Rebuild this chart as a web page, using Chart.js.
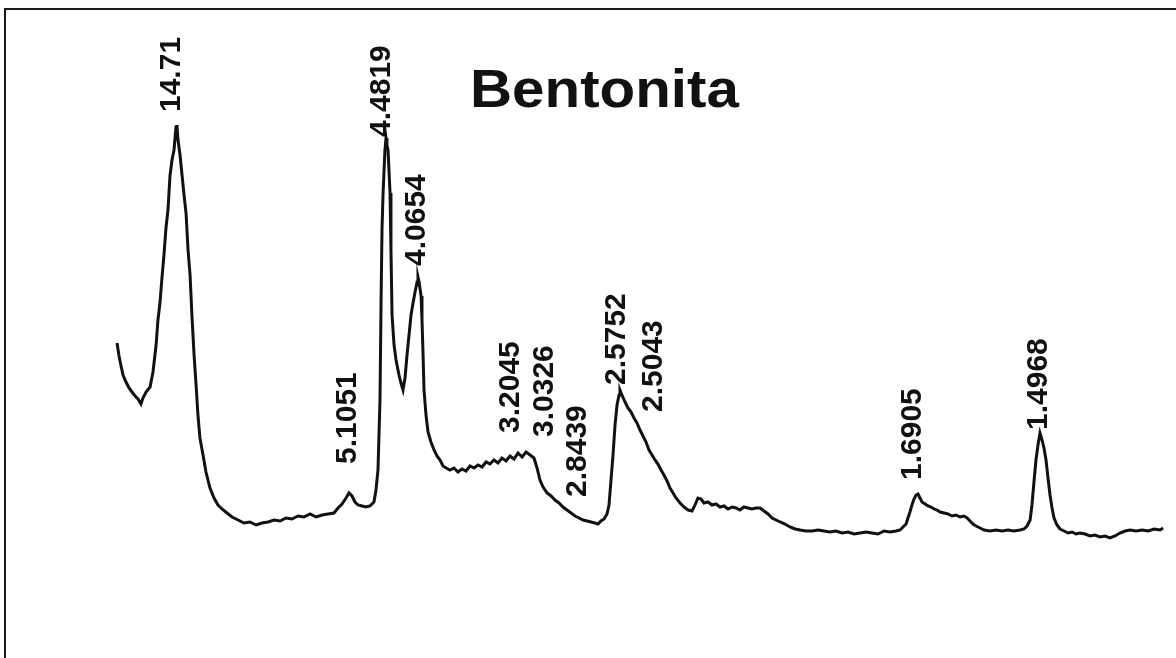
<!DOCTYPE html>
<html>
<head>
<meta charset="utf-8">
<script src="https://cdn.jsdelivr.net/npm/chart.js@4/dist/chart.umd.min.js"></script>
<style>
  html, body { margin: 0; padding: 0; background: #fff; overflow: hidden; }
  #wrap { position: relative; width: 1176px; height: 658px; }
  #frame { position: absolute; left: 4px; top: 8px; width: 1200px; height: 700px;
           border-left: 2px solid #1a1a1a; border-top: 2px solid #1a1a1a; pointer-events: none; }
  canvas { position: absolute; left: 0; top: 0; }
</style>
</head>
<body>
<div id="wrap">
  <canvas id="c" width="1176" height="658"></canvas>
  <div id="frame"></div>
</div>
<script>
// Sample title
const chartTitle = 'Bentonita';

// Scan positions (degrees 2-theta, Cu K-alpha)
const twoTheta = [
  2.18,2.31,2.44,2.57,2.76,2.96,3.15,3.35,3.54,3.73,3.86,4.06,4.32,4.51,4.71,4.83,4.96,5.09,5.22,5.35,
  5.48,5.61,5.74,5.87,6.00,6.06,6.13,6.26,6.39,6.52,6.65,6.78,6.91,7.04,7.17,7.30,7.42,7.55,7.75,7.94,
  8.20,8.46,8.72,8.98,9.30,9.63,10.02,10.40,10.79,11.18,11.57,11.96,12.35,12.74,13.12,13.51,13.90,14.29,14.68,15.07,
  15.46,15.84,16.23,16.49,16.75,17.01,17.20,17.40,17.59,17.79,18.05,18.30,18.56,18.82,18.95,19.08,19.21,19.28,19.34,19.41,
  19.53,19.60,19.66,19.73,19.86,19.92,19.99,20.12,20.25,20.44,20.57,20.70,20.83,20.96,21.09,21.22,21.35,21.48,21.61,21.67,
  21.74,21.87,21.93,22.00,22.06,22.19,22.32,22.51,22.71,22.90,23.10,23.29,23.49,23.74,24.00,24.26,24.52,24.78,25.04,25.30,
  25.56,25.82,26.08,26.33,26.59,26.85,27.11,27.37,27.63,27.89,28.15,28.41,28.67,28.93,29.18,29.38,29.57,29.77,30.03,30.29,
  30.54,30.80,31.06,31.32,31.58,31.84,32.10,32.36,32.62,32.88,33.13,33.33,33.52,33.72,33.91,34.04,34.17,34.30,34.43,34.56,
  34.69,34.75,34.88,35.08,35.27,35.47,35.66,35.85,36.05,36.24,36.44,36.63,36.83,37.02,37.21,37.41,37.60,37.80,37.99,38.19,
  38.38,38.64,38.90,39.16,39.42,39.61,39.80,40.00,40.19,40.45,40.71,40.97,41.23,41.49,41.75,42.01,42.27,42.52,42.78,43.04,
  43.30,43.56,43.82,44.08,44.34,44.60,44.86,45.12,45.44,45.76,46.09,46.41,46.80,47.19,47.58,47.96,48.35,48.74,49.13,49.52,
  49.91,50.30,50.69,51.07,51.46,51.85,52.24,52.63,52.89,53.08,53.28,53.40,53.53,53.66,53.79,53.92,54.05,54.18,54.31,54.51,
  54.70,54.89,55.09,55.28,55.48,55.74,55.99,56.25,56.51,56.77,57.03,57.23,57.42,57.61,57.81,58.07,58.33,58.71,59.10,59.49,
  59.88,60.27,60.66,60.92,61.11,61.31,61.43,61.56,61.69,61.82,61.95,62.08,62.21,62.34,62.47,62.60,62.73,62.86,63.05,63.25,
  63.51,63.77,64.03,64.28,64.54,64.87,65.19,65.51,65.84,66.16,66.49,66.81,67.13,67.46,67.78,68.17,68.56,68.95,69.34,69.72,
  69.92
];

// Intensity (counts, arbitrary)
const intensity = [
  2570,2440,2340,2250,2180,2120,2080,2040,2010,1960,2020,2080,2130,2280,2550,2800,2970,3220,3450,3720,
  3900,4240,4400,4500,4730,4750,4600,4450,4250,4050,3870,3500,3250,2820,2450,2150,1850,1620,1450,1280,
  1120,1020,950,910,870,830,800,770,780,750,770,780,800,790,820,810,840,830,860,830,
  850,860,870,920,960,1020,1070,1040,980,950,940,930,940,980,1100,1300,2000,3000,3700,4070,
  4500,4620,4550,4500,4070,3500,2850,2550,2400,2250,2170,2100,2220,2450,2650,2850,2970,3080,3180,3230,
  3180,3040,2800,2450,2100,1850,1680,1580,1500,1440,1400,1340,1320,1300,1320,1280,1310,1290,1340,1320,
  1350,1330,1380,1360,1400,1370,1420,1390,1440,1410,1470,1430,1480,1450,1420,1320,1200,1130,1070,1040,
  1000,970,930,900,870,840,820,800,790,780,770,760,790,810,860,950,1200,1450,1750,1950,
  2050,2100,2050,1980,1920,1880,1820,1770,1700,1640,1580,1500,1450,1400,1360,1300,1250,1190,1120,1070,
  1020,970,930,900,890,950,1020,1010,970,980,950,960,930,940,910,930,920,900,930,920,
  910,920,920,890,860,820,800,780,760,730,710,700,690,690,700,690,680,690,670,680,
  660,670,680,670,660,690,680,690,700,730,760,820,880,950,1010,1050,1060,1020,980,960,
  940,930,910,900,880,870,860,840,850,830,840,820,790,760,740,720,700,690,700,690,
  700,690,700,710,740,800,950,1180,1400,1550,1670,1600,1520,1400,1220,1050,920,820,750,710,
  690,670,680,660,670,660,640,650,630,640,620,640,670,690,700,690,700,690,710,700,
  720
];

// Peak labels (d-spacing, Angstrom) with their 2-theta and the intensity where each label starts
const peakLabels   = ['14.71','5.1051','4.4819','4.0654','3.2045','3.0326','2.8439','2.5752','2.5043','1.6905','1.4968'];
const peakTwoTheta = [5.74, 17.14, 19.34, 21.61, 27.69, 29.90, 32.03, 34.56, 36.96, 53.73, 61.89];
const labelHeight  = [4880, 1360, 4630, 3340, 1670, 1630, 1030, 2150, 1880, 1200, 1700];

const points = twoTheta.map((t, i) => ({ x: t, y: intensity[i] }));

const annotate = {
  id: 'annotate',
  afterDatasetsDraw(chart) {
    const ctx = chart.ctx;
    const xs = chart.scales.x, ys = chart.scales.y;
    ctx.save();
    ctx.fillStyle = '#111';
    // peak labels, rotated
    ctx.font = 'bold 30px "Liberation Sans", Arial, sans-serif';
    ctx.textAlign = 'left';
    ctx.textBaseline = 'middle';
    peakLabels.forEach((lab, i) => {
      const px = xs.getPixelForValue(peakTwoTheta[i]);
      const py = ys.getPixelForValue(labelHeight[i]);
      ctx.save();
      ctx.translate(px, py);
      ctx.rotate(-Math.PI / 2);
      ctx.fillText(lab, 0, 0);
      ctx.restore();
    });
    // title
    ctx.save();
    ctx.font = 'bold 54px "Liberation Sans", Arial, sans-serif';
    ctx.textAlign = 'left';
    ctx.textBaseline = 'alphabetic';
    ctx.translate(470, 107);
    ctx.scale(1.08, 1);
    ctx.fillText(chartTitle, 0, 0);
    ctx.restore();
    ctx.restore();
  }
};

new Chart(document.getElementById('c'), {
  type: 'line',
  data: {
    datasets: [{
      data: points,
      borderColor: '#111',
      borderWidth: 3,
      pointRadius: 0,
      tension: 0,
      fill: false
    }]
  },
  options: {
    responsive: false,
    animation: false,
    devicePixelRatio: 1,
    layout: { padding: 0 },
    plugins: { legend: { display: false }, tooltip: { enabled: false }, title: { display: false } },
    scales: {
      x: { type: 'linear', min: -5.398, max: 70.758, display: false },
      y: { type: 'linear', min: -580, max: 6000, display: false }
    }
  },
  plugins: [annotate]
});
</script>
</body>
</html>
